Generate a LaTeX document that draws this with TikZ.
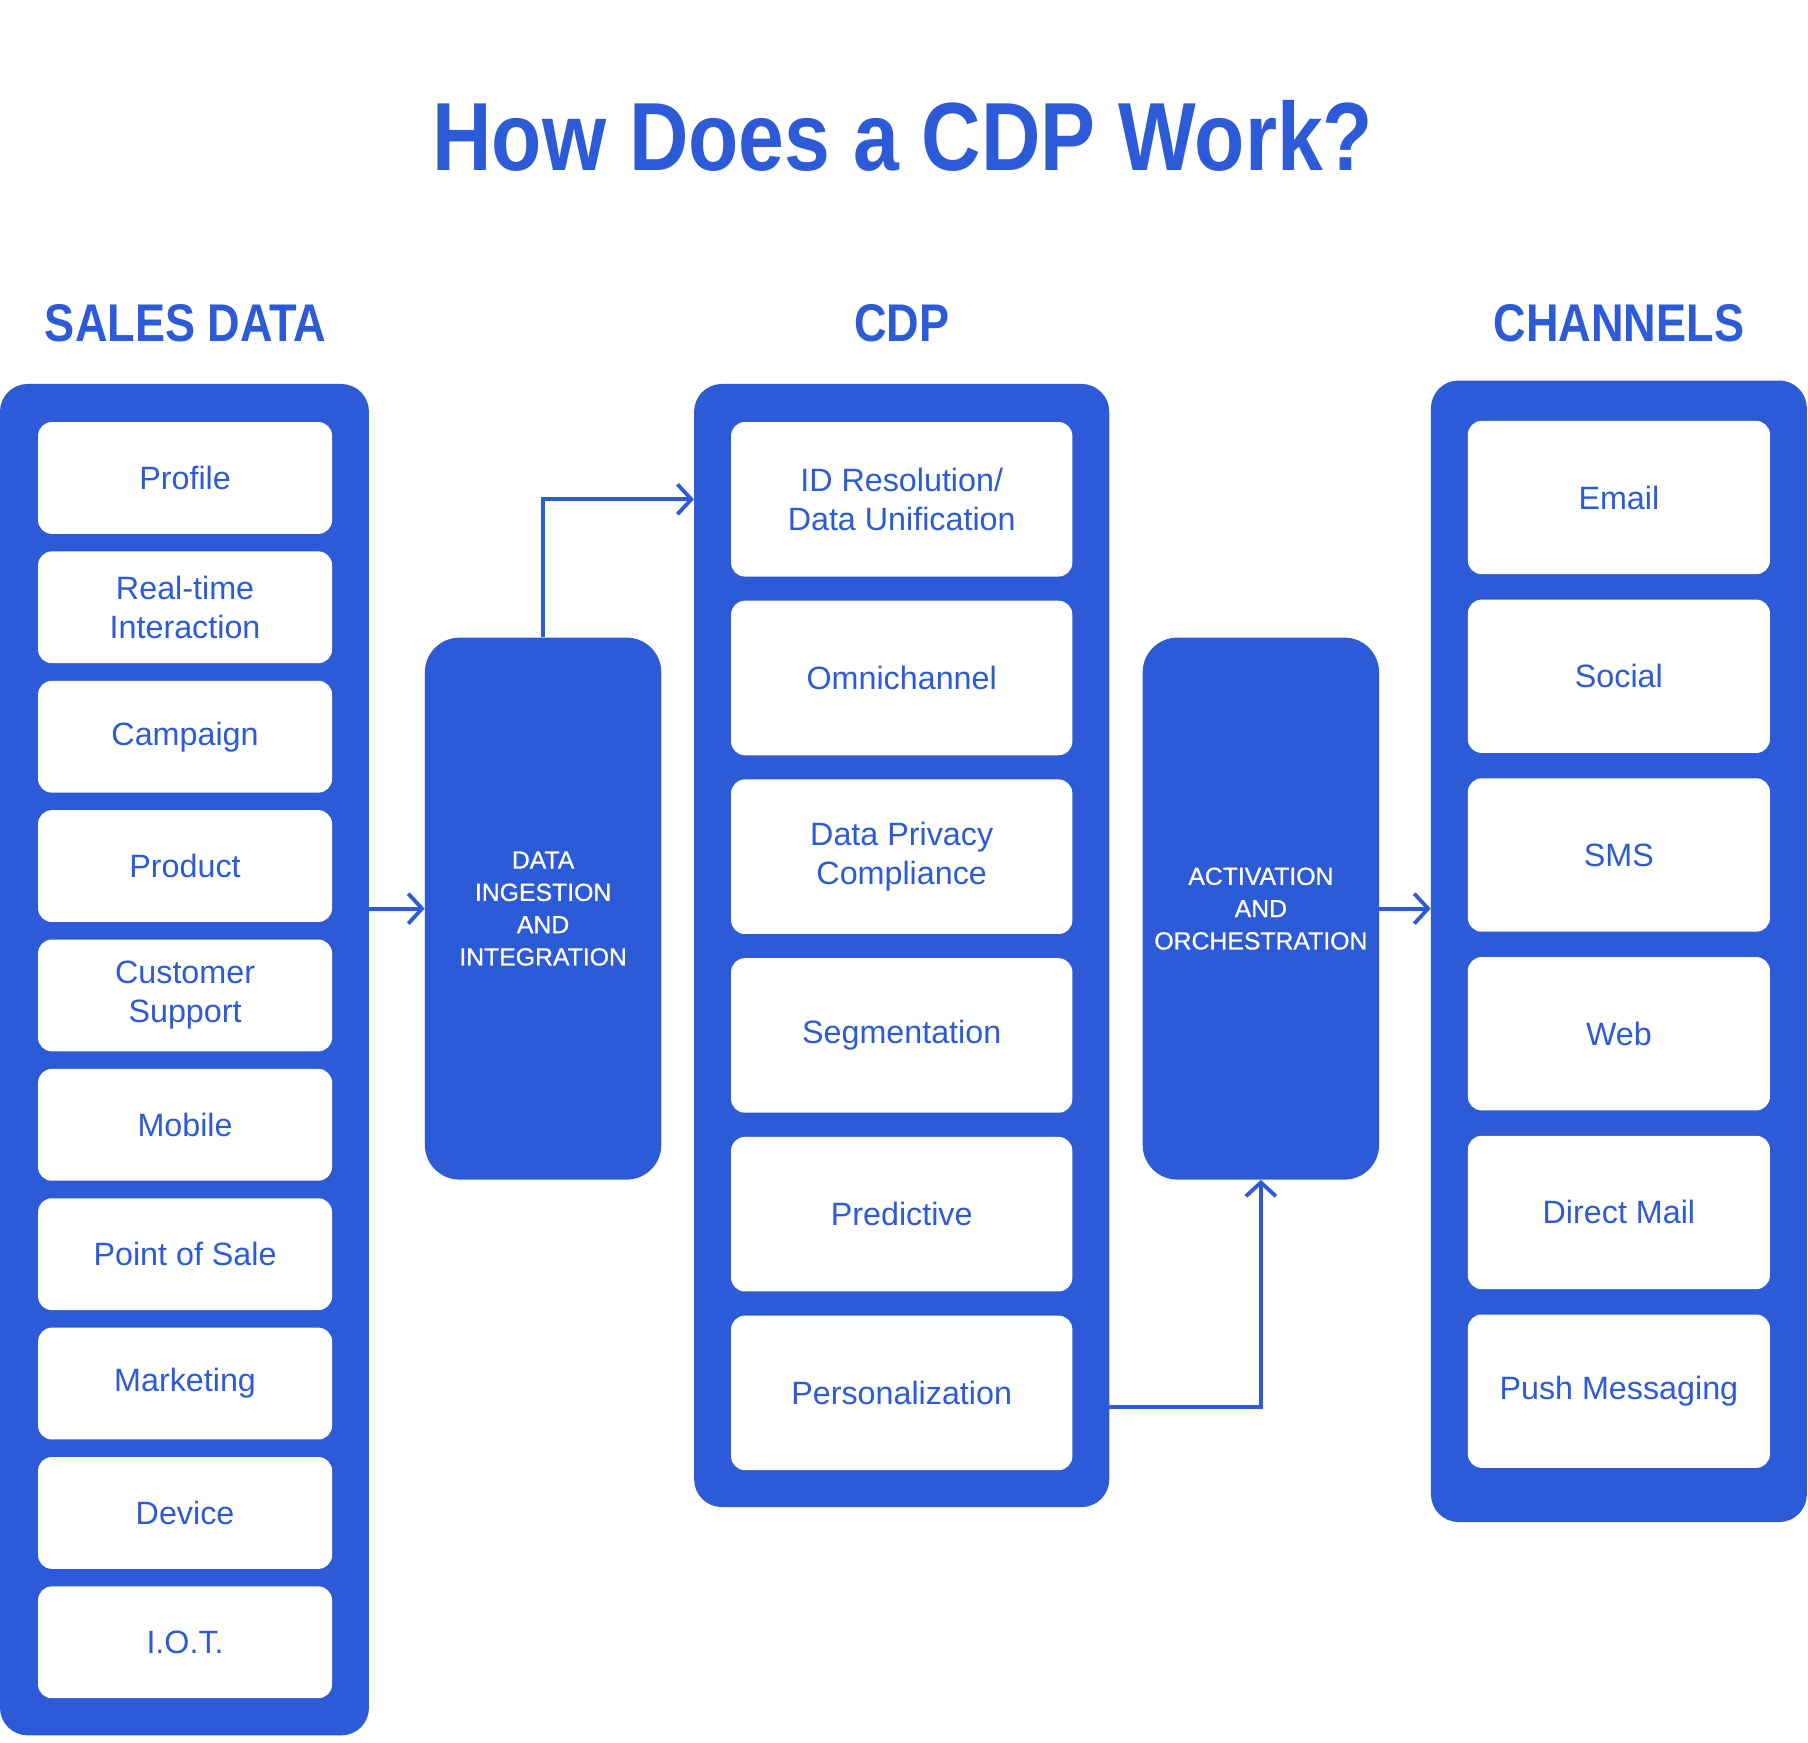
\documentclass[tikz,border=0pt]{standalone}
\usepackage{fontspec}
\setmainfont{Liberation Sans}
\newfontfamily\headfont{Liberation Sans}[FakeStretch=0.85]
\newfontfamily\stagefont{Liberation Sans}[FakeBold=0.7]
\usetikzlibrary{arrows.meta}
\definecolor{cdpblue}{RGB}{45,91,216}
\tikzset{
    panel/.style={fill=cdpblue,rounded corners=24pt,inner sep=0pt},
    item/.style={fill=white,rounded corners=12pt,inner sep=0pt,text=cdpblue,
        align=center,font=\fontsize{28}{34}\selectfont},
    srcitem/.style={item,minimum width=255pt,minimum height=97pt},
    cdpitem/.style={item,minimum width=296pt,minimum height=134pt},
    chanitem/.style={item,minimum width=262pt,minimum height=133pt},
    stage/.style={fill=cdpblue,rounded corners=30pt,minimum width=205pt,
        minimum height=470pt,text=white,align=center,
        font=\stagefont\fontsize{21.5}{28}\selectfont},
    heading/.style={text=cdpblue,anchor=base,
        font=\headfont\bfseries\fontsize{46}{50}\selectfont},
    link/.style={cdpblue,line width=3.3pt,-{Straight Barb[length=12pt,width=26pt]}}
}
\begin{document}
\begin{tikzpicture}[x=1pt,y=-1pt]
        \useasboundingbox (0,0) rectangle (1568,1511);
        %% Title and headings
        \node[text=cdpblue,anchor=base,font=\headfont\bfseries\fontsize{84}{90}\selectfont]
            (title) at (783,148) {How Does a CDP Work?};
        \node[heading] (hsales) at (161,296) {SALES DATA};
        \node[heading] (hcdp) at (782,296) {CDP};
        \node[heading] (hchan) at (1404,296) {CHANNELS};
        %% Panels
        \node[panel,minimum width=320pt,minimum height=1172pt] (sales) at (160,919) {};
        \node[panel,minimum width=360pt,minimum height=974pt] (cdp) at (782,820) {};
        \node[panel,minimum width=326pt,minimum height=990pt] (chan) at (1404,825) {};
        %% Sales data
        \node[srcitem] (profile) at (160.5,414.5) {Profile};
        \node[srcitem] (realtime) at (160.5,526.7) {Real-time\\Interaction};
        \node[srcitem] (campaign) at (160.5,638.9) {Campaign};
        \node[srcitem] (product) at (160.5,751.1) {Product};
        \node[srcitem] (support) at (160.5,863.3) {Customer\\Support};
        \node[srcitem] (mobile) at (160.5,975.5) {Mobile};
        \node[srcitem] (pos) at (160.5,1087.7) {Point of Sale};
        \node[srcitem] (marketing) at (160.5,1199.9) {Marketing};
        \node[srcitem] (device) at (160.5,1312.1) {Device};
        \node[srcitem] (iot) at (160.5,1424.3) {I.O.T.};
        %% CDP
        \node[cdpitem] (idres) at (782,433) {ID Resolution/\\Data Unification};
        \node[cdpitem] (omni) at (782,588) {Omnichannel};
        \node[cdpitem] (privacy) at (782,743) {Data Privacy\\Compliance};
        \node[cdpitem] (segment) at (782,898) {Segmentation};
        \node[cdpitem] (predict) at (782,1053) {Predictive};
        \node[cdpitem] (person) at (782,1208) {Personalization};
        %% Channels
        \node[chanitem] (email) at (1404,431.5) {Email};
        \node[chanitem] (social) at (1404,586.5) {Social};
        \node[chanitem] (sms) at (1404,741.5) {SMS};
        \node[chanitem] (web) at (1404,896.5) {Web};
        \node[chanitem] (mail) at (1404,1051.5) {Direct Mail};
        \node[chanitem] (push) at (1404,1206.5) {Push Messaging};
        %% Stages
        \node[stage] (ingest) at (471,788) {DATA\\INGESTION\\AND\\INTEGRATION};
        \node[stage] (activate) at (1093.5,788) {ACTIVATION\\AND\\ORCHESTRATION};
        %% Links
        \coordinate (persout) at (962,1220);
        \draw[link] (sales.east |- ingest.west) -- (ingest.west);
        \draw[link] (ingest.north) |- (cdp.west |- idres);
        \draw[link] (activate.east) -- (chan.west |- activate.east);
        \draw[link] (persout) -| (activate.south);
\end{tikzpicture}
\end{document}
